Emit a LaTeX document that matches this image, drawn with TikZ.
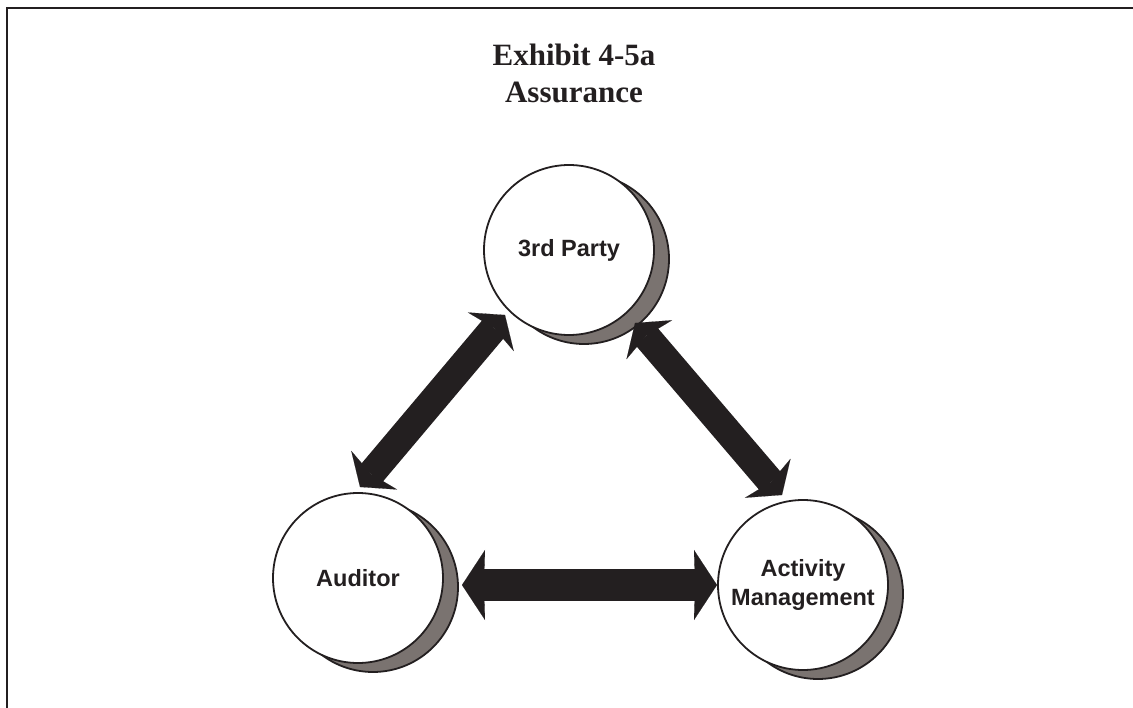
\documentclass[tikz,border=0pt]{standalone}
\usepackage{fontspec}
\setmainfont{Liberation Serif}
\setsansfont{Liberation Sans}
\usetikzlibrary{arrows.meta,calc}
\definecolor{ink}{HTML}{231F20}
\definecolor{shadegray}{HTML}{7A7370}

\begin{document}
\begin{tikzpicture}[x=1pt,y=-1pt,
  ball/.style={circle, draw=ink, line width=1.8pt, fill=white, minimum size=170pt,
    inner sep=0pt, text=ink, align=center,
    font=\sffamily\bfseries\fontsize{23.5}{29}\selectfont},
  ballshadow/.style={draw=ink, line width=1.8pt, fill=shadegray},
  titletext/.style={anchor=base, text=ink, font=\rmfamily\bfseries\fontsize{31}{37}\selectfont},
  diagarrow/.style={draw=ink, line width=28pt,
    {Stealth[length=22pt, width=60pt, inset=5pt, line width=0.1pt]}-{Stealth[length=22pt, width=60pt, inset=5pt, line width=0.1pt]}},
  flatarrow/.style={draw=ink, line width=32pt,
    {Stealth[length=23pt, width=70pt, inset=1pt, line width=0.1pt]}-{Stealth[length=23pt, width=70pt, inset=1pt, line width=0.1pt]}},
]
\useasboundingbox (0,0) rectangle (1133,708);

% open frame: top and left rules
\draw[ink, line width=2.5pt, line join=miter] (7,708) -- (7,8) -- (1133,8);

% heading
\node[titletext] (title1) at (574,66) {Exhibit 4-5a};
\node[titletext] (title2) at (574,103) {Assurance};

% circle centres
\coordinate (cThird) at (569,250);
\coordinate (cAud) at (358,578);
\coordinate (cAct) at (803,585);

% crescent shadows behind the circles
\foreach \c in {cThird,cAud,cAct}
  \draw[ballshadow] ($(\c)+(15,9)$) circle[radius=85pt];

% the three parties
\node[ball] (third) at (cThird) {3rd Party};
\node[ball] (auditor) at (cAud) {Auditor};
\node[ball] (activity) at (cAct) {Activity\\Management};

% arrow end points beside each circle
\coordinate (audTop) at (360,487);
\coordinate (thirdLeft) at (505,315);
\coordinate (thirdRight) at (635,323);
\coordinate (actTop) at (782,495);
\coordinate (audRight) at (462,585);
\coordinate (actLeft) at (717,585);

% two-way relationships
\draw[diagarrow] (audTop) -- (thirdLeft);
\draw[diagarrow] (thirdRight) -- (actTop);
\draw[flatarrow] (audRight) -- (actLeft);
\end{tikzpicture}
\end{document}
